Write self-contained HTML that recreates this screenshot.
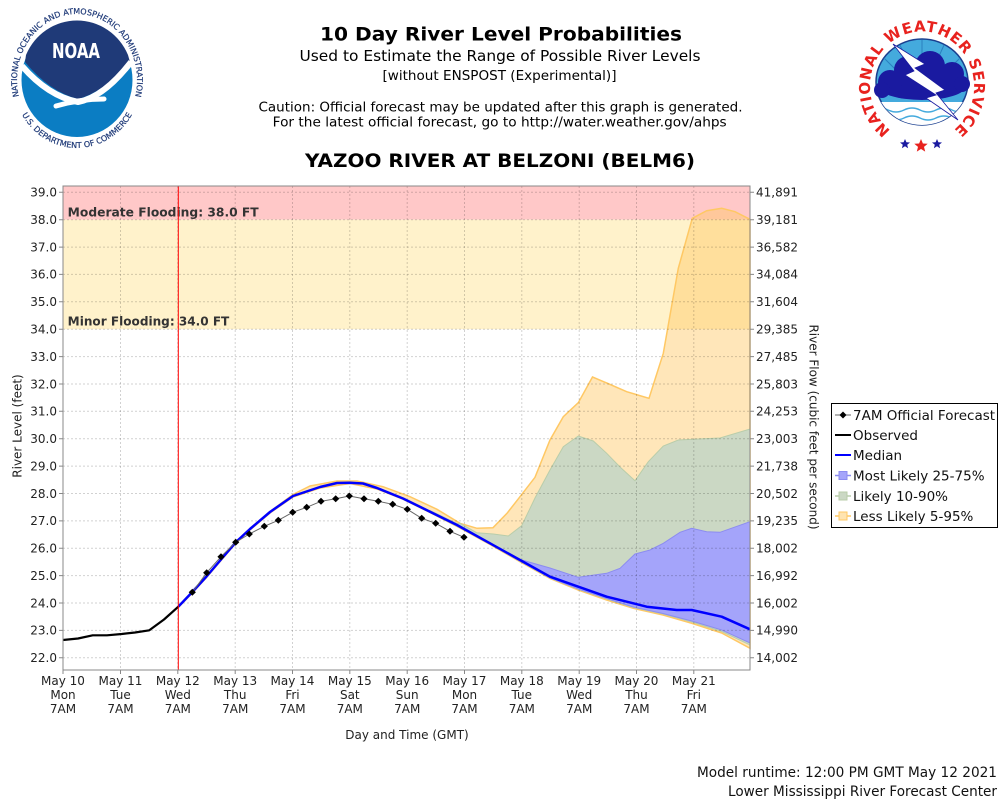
<!DOCTYPE html>
<html><head><meta charset="utf-8"><style>
html,body{margin:0;padding:0;background:#fff;width:1000px;height:800px;overflow:hidden}
svg{display:block}
</style></head><body>
<svg width="1000" height="800" viewBox="0 0 1000 800" xmlns="http://www.w3.org/2000/svg" font-family="'DejaVu Sans','Liberation Sans',sans-serif">
<rect width="1000" height="800" fill="#fff"/>

<!-- NOAA logo -->
<g>
  <defs>
    <path id="noaaTop" d="M 22.6,107.9 A 60 66 0 1 1 131.4,107.9"/>
    <path id="noaaBot" d="M 16.9,103.3 A 64 68 0 0 0 137.1,103.3"/>
  </defs>
  <ellipse cx="77" cy="80" rx="55.5" ry="57" fill="#0b7dc3"/>
  <path d="M 25,62 Q 50,92 78,99 Q 104,92 130,62 L 128,55 A 55.5 57 0 0 0 26,55 Z" fill="#1f3a78"/>
  <path d="M 22,66 Q 48,96 78,102 Q 104,97 131,62" fill="none" stroke="#fff" stroke-width="6"/>
  <path d="M 56,106 Q 80,99 104,99" fill="none" stroke="#fff" stroke-width="5" stroke-linecap="round"/>
  <text x="76" y="58" fill="#fff" font-size="20" font-weight="bold" text-anchor="middle" textLength="48" lengthAdjust="spacingAndGlyphs">NOAA</text>
  <text font-size="8" fill="#1f3a78" stroke="#1f3a78" stroke-width="0.2"><textPath href="#noaaTop" startOffset="50%" text-anchor="middle">NATIONAL OCEANIC AND ATMOSPHERIC ADMINISTRATION</textPath></text>
  <text font-size="8" fill="#1f3a78" stroke="#1f3a78" stroke-width="0.2"><textPath href="#noaaBot" startOffset="50%" text-anchor="middle">U.S. DEPARTMENT OF COMMERCE</textPath></text>
</g>

<!-- NWS logo -->
<g>
  <defs>
    <path id="nwsArc" d="M 889,129 A 52 55 0 1 1 955,129"/>
    <clipPath id="nwsClip"><ellipse cx="922" cy="82" rx="46" ry="43"/></clipPath>
  </defs>
  <ellipse cx="922" cy="82" rx="46" ry="43" fill="#44aadd" stroke="#1a3f8f" stroke-width="1.5"/>
  <g clip-path="url(#nwsClip)">
    <rect x="870" y="102" width="110" height="30" fill="#fff"/>
    <path d="M 872,110 q 8,-4 16,0 t 16,0 t 16,0 t 16,0 t 16,0 t 16,0" fill="none" stroke="#44aadd" stroke-width="1.5"/>
    <path d="M 872,118 q 8,-4 16,0 t 16,0 t 16,0 t 16,0 t 16,0 t 16,0" fill="none" stroke="#44aadd" stroke-width="1.5"/>
    <path d="M 922,40 L 922,60 M 900,45 L 908,63 M 944,45 L 936,63 M 884,58 L 896,70 M 960,58 L 948,70" stroke="#2a80c0" stroke-width="1"/>
  </g>
  <g fill="#1a1aa0">
    <ellipse cx="922" cy="86" rx="44" ry="14"/>
    <circle cx="890" cy="82" r="12"/>
    <circle cx="908" cy="70" r="14"/>
    <circle cx="930" cy="66" r="15"/>
    <circle cx="952" cy="74" r="12"/>
    <circle cx="962" cy="84" r="8"/>
    <circle cx="882" cy="90" r="8"/>
  </g>
  <polygon points="893,44 925,64 915,68 945,90 936,93 958,120 926,98 936,95 905,75 914,71" fill="#fff" stroke="#1a1aa0" stroke-width="0.8"/>
  <text font-size="15" font-weight="bold" fill="#e8221e"><textPath href="#nwsArc" startOffset="50%" text-anchor="middle" letter-spacing="0.8">NATIONAL WEATHER SERVICE</textPath></text>
  <polygon points="905,139 906.4,142.3 910,142.5 907.2,144.8 908.1,148.3 905,146.3 901.9,148.3 902.8,144.8 900,142.5 903.6,142.3" fill="#1a1aa0"/>
  <polygon points="921,139 922.9,143.5 927.7,143.8 924,146.9 925.2,151.6 921,149 916.8,151.6 918,146.9 914.3,143.8 919.1,143.5" fill="#e8221e"/>
  <polygon points="937,139 938.4,142.3 942,142.5 939.2,144.8 940.1,148.3 937,146.3 933.9,148.3 934.8,144.8 932,142.5 935.6,142.3" fill="#1a1aa0"/>
</g>

<!-- Header text -->
<text x="501" y="40.5" font-size="19" font-weight="bold" text-anchor="middle" textLength="362" lengthAdjust="spacingAndGlyphs">10 Day River Level Probabilities</text>
<text x="500" y="61" font-size="15" text-anchor="middle" textLength="401" lengthAdjust="spacingAndGlyphs">Used to Estimate the Range of Possible River Levels</text>
<text x="499.5" y="80" font-size="13" text-anchor="middle" textLength="234" lengthAdjust="spacingAndGlyphs">[without ENSPOST (Experimental)]</text>
<text x="500.5" y="111.5" font-size="13.5" text-anchor="middle" textLength="484" lengthAdjust="spacingAndGlyphs">Caution: Official forecast may be updated after this graph is generated.</text>
<text x="499.7" y="126.7" font-size="13.5" text-anchor="middle" textLength="454" lengthAdjust="spacingAndGlyphs">For the latest official forecast, go to http://water.weather.gov/ahps</text>
<text x="500" y="167" font-size="19" font-weight="bold" text-anchor="middle" textLength="390" lengthAdjust="spacingAndGlyphs">YAZOO RIVER AT BELZONI (BELM6)</text>

<!-- Flood zones -->
<rect x="63" y="186" width="687" height="33.7" fill="#ffc8c8"/>
<rect x="63" y="219.7" width="687" height="109.5" fill="#fff2cb"/>

<!-- Bands -->
<path d="M178.3,606.2 L192.3,591.5 206.5,576 221,559 236,541.5 250,528.5 270,511.5 293,494.5 310,486 337,481 357,481 383,486.7 410,496.7 437,509.3 460,523.3 477,528.3 493,527.7 507,513.3 520,496.7 535,477.3 550,440 563.3,416.7 578.3,402.7 592.5,377 606.7,383 626.7,391.7 649,398.3 663.3,353.3 678.3,268.3 692.3,218.3 706.7,210.7 721.7,208.3 735,211.7 750,219.3 L750,648.3 721.7,633 691.7,623.3 663,615 633.3,608.3 606.7,600 578.3,590 550,578.5 520,561.7 490,544.5 460,528 430,512.5 403,499.2 377,489 350,483.5 320,488 293,497 270,513 250,530 236,543 221,560.5 206.5,577.5 192.3,593 178.3,607.5 Z" fill="#ffc864" fill-opacity="0.45" stroke="#ffc864" stroke-width="1.5"/>
<path d="M430,510.5 L457,523.5 460,523.3 476.7,532.7 493.3,534 508.3,536 521.7,525.7 535,498 550,470 563.3,446.7 578.3,436 593.3,441 606.7,453.3 620,467 635,480.7 648.3,461.7 663.3,446 678.3,440 693.3,439.3 720,438 750,429 L750,645 721.7,631.5 691.7,622 663,614 633.3,607.5 606.7,599 578.3,589.3 550,578 520,561.3 490,544 460,527.8 430,512.5 Z" fill="#cbd8c4" stroke="#b9cdaa" stroke-width="1"/>
<path d="M460,526.2 L490,543 520,559.5 550,568 578.3,577.3 606.7,573.3 620,568.3 635,554 650,550 663.3,543.3 680,532.3 691.7,528.3 706.7,531.7 720,532.3 750,521.7 L750,643 721.7,630 691.7,621 663,613.5 633.3,607 606.7,598.5 578.3,589 550,577.8 520,561 490,544 460,527.6 Z" fill="#a4a4fa" stroke="#8c8cf0" stroke-width="1"/>

<!-- Grid -->
<g stroke="#000" stroke-opacity="0.18" stroke-width="1" stroke-dasharray="2,2">
  <path d="M63,192.3H750M63,219.7H750M63,247.1H750M63,274.4H750M63,301.8H750M63,329.2H750M63,356.6H750M63,384H750M63,411.3H750M63,438.7H750M63,466.1H750M63,493.5H750M63,520.9H750M63,548.2H750M63,575.6H750M63,603H750M63,630.4H750M63,657.8H750"/>
  <path d="M120.5,186V670M177.8,186V670M235.2,186V670M292.5,186V670M349.8,186V670M407.2,186V670M464.5,186V670M521.8,186V670M579.2,186V670M636.5,186V670M693.8,186V670"/>
</g>

<!-- Flood labels -->
<text x="67.7" y="216.5" font-size="12" font-weight="bold" fill="#333" textLength="191" lengthAdjust="spacingAndGlyphs">Moderate Flooding: 38.0 FT</text>
<text x="67.7" y="325.7" font-size="12" font-weight="bold" fill="#333" textLength="161.6" lengthAdjust="spacingAndGlyphs">Minor Flooding: 34.0 FT</text>

<!-- Median -->
<polyline points="178.3,606.7 192.3,592 206.5,576.5 221,559.5 236,542 250,529 270,512 293,496 320,487 337,483 350,482.7 363,483.5 377,488 403,498.5 430,511.7 457,525 490,543.3 520,560 550,576.7 578.3,586.7 606.7,596.7 633.3,603.3 646.7,606.7 676.7,610 691.7,610 721.7,616.7 750,629.3" fill="none" stroke="#0000ff" stroke-width="2.5" stroke-linejoin="round"/>

<!-- Forecast -->
<polyline points="192.3,592.3 206.7,572.7 221,556.7 235.7,542.3 249.3,534 264.3,526.3 278.3,520.3 292.7,512.3 306.7,507.3 321,501.3 335.7,498.7 349.3,496 364,498.7 378.3,501.3 392.7,504.3 407.3,509.3 421.7,518.3 435.7,523.3 450,531.3 464,537.3" fill="none" stroke="#666" stroke-width="1"/>
<g fill="#000">
<path d="M192.3,588.8l3.6,3.5-3.6,3.5-3.6-3.5z M206.7,569.2l3.6,3.5-3.6,3.5-3.6-3.5z M221,553.2l3.6,3.5-3.6,3.5-3.6-3.5z M235.7,538.8l3.6,3.5-3.6,3.5-3.6-3.5z M249.3,530.5l3.6,3.5-3.6,3.5-3.6-3.5z M264.3,522.8l3.6,3.5-3.6,3.5-3.6-3.5z M278.3,516.8l3.6,3.5-3.6,3.5-3.6-3.5z M292.7,508.8l3.6,3.5-3.6,3.5-3.6-3.5z M306.7,503.8l3.6,3.5-3.6,3.5-3.6-3.5z M321,497.8l3.6,3.5-3.6,3.5-3.6-3.5z M335.7,495.2l3.6,3.5-3.6,3.5-3.6-3.5z M349.3,492.5l3.6,3.5-3.6,3.5-3.6-3.5z M364,495.2l3.6,3.5-3.6,3.5-3.6-3.5z M378.3,497.8l3.6,3.5-3.6,3.5-3.6-3.5z M392.7,500.8l3.6,3.5-3.6,3.5-3.6-3.5z M407.3,505.8l3.6,3.5-3.6,3.5-3.6-3.5z M421.7,514.8l3.6,3.5-3.6,3.5-3.6-3.5z M435.7,519.8l3.6,3.5-3.6,3.5-3.6-3.5z M450,527.8l3.6,3.5-3.6,3.5-3.6-3.5z M464,533.8l3.6,3.5-3.6,3.5-3.6-3.5z"/>
</g>

<!-- Observed -->
<polyline points="63,640 78,638.5 92.7,635.3 107,635.3 121.7,634 135,632.5 149.3,630.3 164,619.5 178.3,606.7" fill="none" stroke="#000" stroke-width="2.2" stroke-linejoin="round"/>

<!-- Red now line -->
<line x1="178.3" y1="186" x2="178.3" y2="670" stroke="#ff0000" stroke-width="1"/>

<!-- Plot border -->
<rect x="63" y="186" width="687" height="484" fill="none" stroke="#888" stroke-width="1"/>

<!-- Ticks -->
<g stroke="#888" stroke-width="1">
<path d="M59,192.3H63M59,219.7H63M59,247.1H63M59,274.4H63M59,301.8H63M59,329.2H63M59,356.6H63M59,384H63M59,411.3H63M59,438.7H63M59,466.1H63M59,493.5H63M59,520.9H63M59,548.2H63M59,575.6H63M59,603H63M59,630.4H63M59,657.8H63"/>
<path d="M750,192.3H754M750,219.7H754M750,247.1H754M750,274.4H754M750,301.8H754M750,329.2H754M750,356.6H754M750,384H754M750,411.3H754M750,438.7H754M750,466.1H754M750,493.5H754M750,520.9H754M750,548.2H754M750,575.6H754M750,603H754M750,630.4H754M750,657.8H754"/>
<path d="M63,670V674M120.5,670V674M177.8,670V674M235.2,670V674M292.5,670V674M349.8,670V674M407.2,670V674M464.5,670V674M521.8,670V674M579.2,670V674M636.5,670V674M693.8,670V674"/>
</g>
<g font-size="12" fill="#222" text-anchor="end">
<text x="57" y="196.6">39.0</text><text x="57" y="224">38.0</text><text x="57" y="251.4">37.0</text><text x="57" y="278.7">36.0</text><text x="57" y="306.1">35.0</text><text x="57" y="333.5">34.0</text><text x="57" y="360.9">33.0</text><text x="57" y="388.3">32.0</text><text x="57" y="415.6">31.0</text><text x="57" y="443">30.0</text><text x="57" y="470.4">29.0</text><text x="57" y="497.8">28.0</text><text x="57" y="525.2">27.0</text><text x="57" y="552.5">26.0</text><text x="57" y="579.9">25.0</text><text x="57" y="607.3">24.0</text><text x="57" y="634.7">23.0</text><text x="57" y="662.1">22.0</text>
</g>
<g font-size="12" fill="#222">
<text x="756" y="196.6">41,891</text><text x="756" y="224">39,181</text><text x="756" y="251.4">36,582</text><text x="756" y="278.7">34,084</text><text x="756" y="306.1">31,604</text><text x="756" y="333.5">29,385</text><text x="756" y="360.9">27,485</text><text x="756" y="388.3">25,803</text><text x="756" y="415.6">24,253</text><text x="756" y="443">23,003</text><text x="756" y="470.4">21,738</text><text x="756" y="497.8">20,502</text><text x="756" y="525.2">19,235</text><text x="756" y="552.5">18,002</text><text x="756" y="579.9">16,992</text><text x="756" y="607.3">16,002</text><text x="756" y="634.7">14,990</text><text x="756" y="662.1">14,002</text>
</g>

<!-- X labels -->
<g font-size="12" fill="#222" text-anchor="middle">
<text x="63" y="685">May 10</text><text x="63" y="699">Mon</text><text x="63" y="713">7AM</text>
<text x="120.5" y="685">May 11</text><text x="120.5" y="699">Tue</text><text x="120.5" y="713">7AM</text>
<text x="177.8" y="685">May 12</text><text x="177.8" y="699">Wed</text><text x="177.8" y="713">7AM</text>
<text x="235.2" y="685">May 13</text><text x="235.2" y="699">Thu</text><text x="235.2" y="713">7AM</text>
<text x="292.5" y="685">May 14</text><text x="292.5" y="699">Fri</text><text x="292.5" y="713">7AM</text>
<text x="349.8" y="685">May 15</text><text x="349.8" y="699">Sat</text><text x="349.8" y="713">7AM</text>
<text x="407.2" y="685">May 16</text><text x="407.2" y="699">Sun</text><text x="407.2" y="713">7AM</text>
<text x="464.5" y="685">May 17</text><text x="464.5" y="699">Mon</text><text x="464.5" y="713">7AM</text>
<text x="521.8" y="685">May 18</text><text x="521.8" y="699">Tue</text><text x="521.8" y="713">7AM</text>
<text x="579.2" y="685">May 19</text><text x="579.2" y="699">Wed</text><text x="579.2" y="713">7AM</text>
<text x="636.5" y="685">May 20</text><text x="636.5" y="699">Thu</text><text x="636.5" y="713">7AM</text>
<text x="693.8" y="685">May 21</text><text x="693.8" y="699">Fri</text><text x="693.8" y="713">7AM</text>
</g>

<!-- Axis titles -->
<text x="407" y="739" font-size="12" fill="#222" text-anchor="middle">Day and Time (GMT)</text>
<text transform="translate(21.5,426) rotate(-90)" font-size="12" fill="#222" text-anchor="middle">River Level (feet)</text>
<text transform="translate(809.5,427) rotate(90)" font-size="12" fill="#222" text-anchor="middle">River Flow (cubic feet per second)</text>

<!-- Legend -->
<rect x="831.5" y="403.5" width="166" height="124" fill="#fff" stroke="#000" stroke-width="1"/>
<line x1="835" y1="415" x2="851" y2="415" stroke="#666" stroke-width="1"/>
<path d="M843,411.5l3.5,3.5-3.5,3.5-3.5-3.5z" fill="#000"/>
<line x1="835" y1="435" x2="851" y2="435" stroke="#000" stroke-width="2"/>
<line x1="835" y1="455" x2="851" y2="455" stroke="#0000ff" stroke-width="2"/>
<line x1="835" y1="475.5" x2="851" y2="475.5" stroke="#8c8cf0" stroke-width="1.5"/>
<rect x="839" y="471.5" width="8" height="8" fill="#a4a4fa" stroke="#8c8cf0"/>
<line x1="835" y1="496" x2="851" y2="496" stroke="#b9cdaa" stroke-width="1.5"/>
<rect x="839" y="492" width="8" height="8" fill="#cbd8c4" stroke="#b9cdaa"/>
<line x1="835" y1="516" x2="851" y2="516" stroke="#ffc864" stroke-width="1.5"/>
<rect x="839" y="512" width="8" height="8" fill="#ffe4b0" stroke="#ffc864"/>
<g font-size="13.5" fill="#111">
<text x="853" y="420">7AM Official Forecast</text>
<text x="853" y="440">Observed</text>
<text x="853" y="460">Median</text>
<text x="853" y="480.5">Most Likely 25-75%</text>
<text x="853" y="501">Likely 10-90%</text>
<text x="853" y="521">Less Likely 5-95%</text>
</g>

<!-- Footer -->
<text x="997" y="777" font-size="14" fill="#111" text-anchor="end" textLength="300" lengthAdjust="spacingAndGlyphs">Model runtime: 12:00 PM GMT May 12 2021</text>
<text x="997" y="796" font-size="14" fill="#111" text-anchor="end" textLength="269" lengthAdjust="spacingAndGlyphs">Lower Mississippi River Forecast Center</text>
</svg>
</body></html>
